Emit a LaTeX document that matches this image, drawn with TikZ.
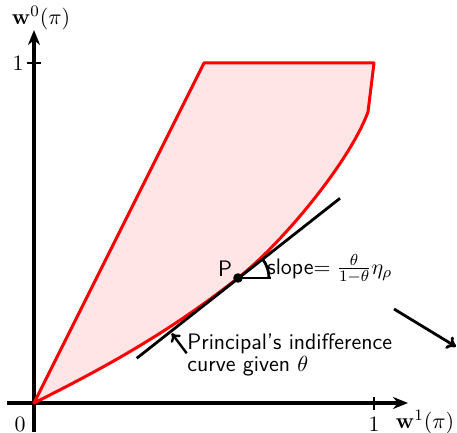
\documentclass[tikz,border=0pt]{standalone}
\usetikzlibrary{arrows.meta}
\begin{document}
\begin{tikzpicture}[x=0.5pt,y=-0.5pt,
  lbl/.style={inner sep=0pt, font=\sffamily\fontsize{11.2}{11}\selectfont},
  axisline/.style={line width=1.9pt, -{Stealth[length=7.5pt,width=6pt]}},
  region/.style={fill=red!10, draw=red, line width=1.5pt, line join=round},
  blk/.style={line width=1.4pt}]
\useasboundingbox (0,0) rectangle (457,433);
\coordinate (O) at (34,403);
\coordinate (A) at (204,63);
\coordinate (B) at (374,63);
\coordinate (F) at (368,112);
\coordinate (P) at (238,278);
\coordinate (T1) at (136.7,358.3);
\coordinate (T2) at (340,198.3);
\coordinate (H) at (271.5,278);
\coordinate (X0) at (7,403);
\coordinate (X1) at (408,403);
\coordinate (Y0) at (34,432);
\coordinate (Y1) at (34,30);
\coordinate (Q1) at (186.7,353.3);
\coordinate (Q2) at (171.7,333.3);
\coordinate (R1) at (394,309);
\coordinate (R2) at (456,346.7);
% axes
\draw[axisline] (X0) -- (X1);
\draw[axisline] (Y0) -- (Y1);
\draw[line width=1.3pt] (374,397) -- (374,410);
\draw[line width=1.3pt] (27,63) -- (41,63);
% region
\path[region] (O) -- (A) -- (B) -- (F)
  .. controls (348.75,163.5) and (281.2,244.0) .. (P)
  .. controls (168,333) and (104,368) .. (O) -- cycle;
% tangent
\draw[blk] (T1) -- (T2);
\draw[blk] (P) -- (H);
\draw[blk] ([shift={(0:15.5pt)}]P) arc[start angle=0,end angle=38,radius=15.5pt];
\fill (P) circle[radius=2.4pt];
% arrows
\draw[line width=1.2pt, -{To[length=4pt,width=6pt]}] (Q1) -- (Q2);
\draw[line width=1.4pt, -{To[length=4.5pt,width=7pt]}] (R1) -- (R2);
% labels
\node[lbl] (l0) at (20,424) {$0$};
\node[lbl] (lx1) at (374,424) {$1$};
\node[lbl] (ly1) at (18,63) {$1$};
\node[lbl] (lx) at (425,422) {$\mathbf{w}^1(\pi)$};
\node[lbl] (ly) at (41,18) {$\mathbf{w}^0(\pi)$};
\node[lbl] (lp) at (225,269) {P};
\node[lbl, anchor=west] (ls) at (267,269) {slope$=\frac{\theta}{1-\theta}\eta_\rho$};
\node[lbl, anchor=north west, align=left] (lc) at (187,333) {Principal's indifference\\curve given $\theta$};
\end{tikzpicture}
\end{document}
